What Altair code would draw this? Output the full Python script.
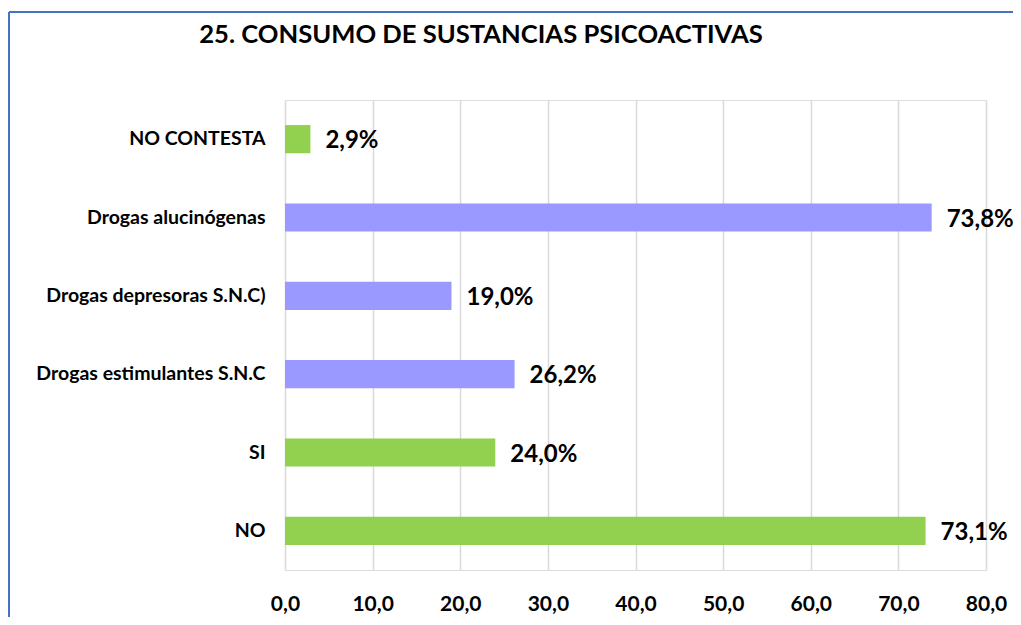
import altair as alt
import pandas as pd

categories = ["NO CONTESTA", "Drogas alucinógenas ", "Drogas depresoras S.N.C)",
              "Drogas estimulantes S.N.C", "SI", "NO"]
values = [2.9, 73.8, 19.0, 26.2, 24.0, 73.1]
groups = ["g", "p", "p", "p", "g", "g"]
tick_values = [0, 10, 20, 30, 40, 50, 60, 70, 80]
title_text = "25. CONSUMO DE SUSTANCIAS PSICOACTIVAS"

df = pd.DataFrame({"cat": categories, "val": values, "grp": groups})

FONT = "Lato"

x_enc = alt.X("val:Q", scale=alt.Scale(domain=[0, 80], nice=False),
              axis=alt.Axis(values=tick_values, title=None, grid=True, gridColor="#d9d9d9",
                            gridWidth=1.5, domain=False, ticks=False, labelPadding=23,
                            labelFlush=False, labelOverlap=False,
                            labelFont=FONT, labelFontWeight="bold", labelFontSize=21,
                            labelColor="#000000",
                            labelExpr="replace(format(datum.value, '.1f'), '.', ',')"))
y_enc = alt.Y("cat:N", sort=categories,
              scale=alt.Scale(paddingInner=0.64, paddingOuter=0.32),
              axis=alt.Axis(title=None, domain=False, ticks=False, labelPadding=20,
                            labelFont=FONT, labelFontWeight="bold", labelFontSize=19.5,
                            labelColor="#000000", labelLimit=400))

base = alt.Chart(df)

bars = base.mark_bar().encode(
    x=x_enc, y=y_enc,
    color=alt.Color("grp:N", scale=alt.Scale(domain=["g", "p"], range=["#92D050", "#9999FF"]),
                    legend=None),
)

labels = base.transform_calculate(
    lab="replace(format(datum.val, '.1f'), '.', ',') + '%'"
).mark_text(align="left", dx=15, dy=2, font=FONT, fontWeight="bold", fontSize=24,
            color="#000000").encode(
    x="val:Q", y=alt.Y("cat:N", sort=categories), text="lab:N")

title = alt.Chart(pd.DataFrame({"t": [title_text]})).mark_text(
    font=FONT, fontWeight="bold", fontSize=25.6, color="#000000", align="center",
    baseline="middle").encode(x=alt.value(196), y=alt.value(-65), text="t:N")

border_top = alt.Chart(pd.DataFrame({"a": [0]})).mark_rule(
    color="#4472C4", strokeWidth=2, clip=False).encode(
    x=alt.value(-276), x2=alt.value(740), y=alt.value(-88))
border_left = alt.Chart(pd.DataFrame({"a": [0]})).mark_rule(
    color="#4472C4", strokeWidth=2, clip=False).encode(
    x=alt.value(-276), y=alt.value(-88), y2=alt.value(530))

chart = alt.layer(bars, labels, title, border_top, border_left).properties(
    width=701, height=470,
    autosize=alt.AutoSizeParams(type="none"),
    padding={"left": 277, "top": 92, "right": 27, "bottom": 47},
).configure_view(stroke=None).configure(background="white")

chart.save("out.html", embed_options={"renderer": "svg", "actions": False})
